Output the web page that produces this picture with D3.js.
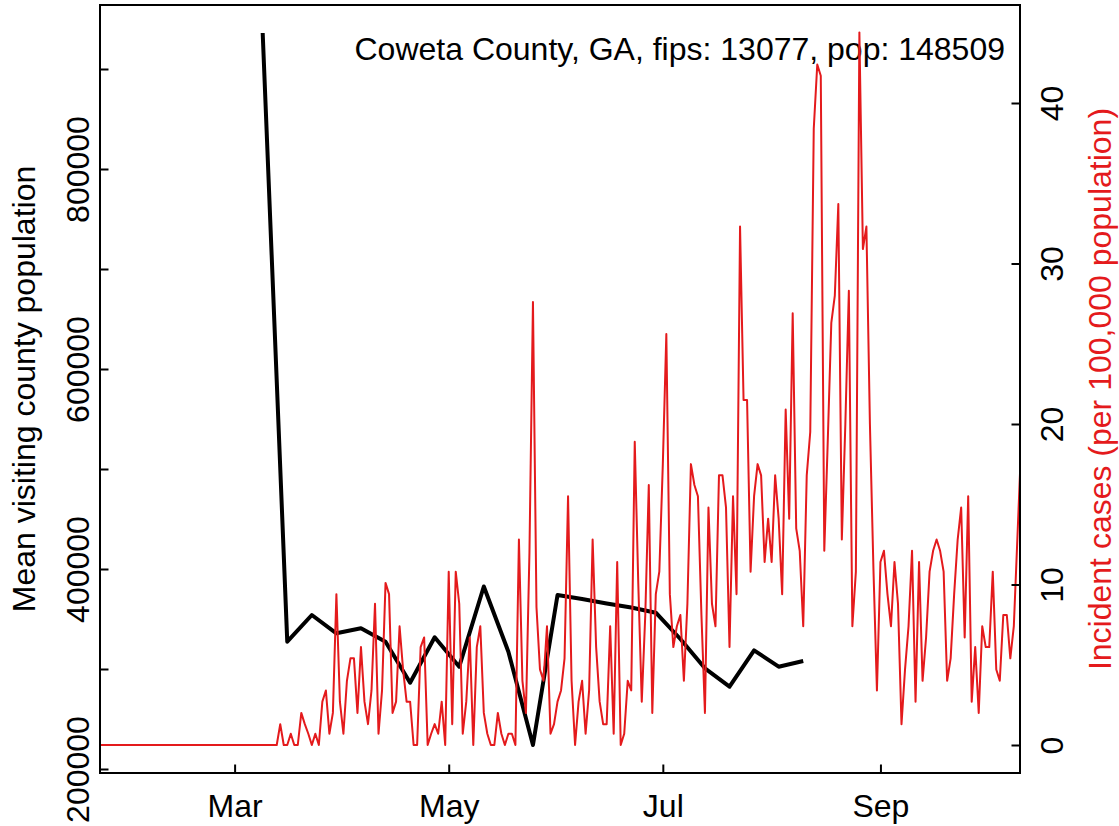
<!DOCTYPE html>
<html><head><meta charset="utf-8">
<script src="https://cdn.jsdelivr.net/npm/d3@7"></script>
<style>body{margin:0;background:#fff}svg{display:block}text{font-family:"Liberation Sans",Arial,sans-serif}</style>
</head><body><div id="chart"></div>
<script>
// ---- data ----
const titleText = "Coweta County, GA, fips: 13077, pop: 148509";
const leftAxisTitle = "Mean visiting county population";
const rightAxisTitle = "Incident cases (per 100,000 population)";
// weekly mean visiting population (starting 2020-03-09)
const visitStart = "2020-03-09";
const visitValues = [936000, 327300, 354000, 335700, 340700, 327300, 286300, 331700, 302300, 382500, 317300, 224000,
  374000, 370000, 365500, 361500, 356300, 330000, 300700, 282300, 318700, 302300, 308000];
// daily incident cases per 100,000 (starting 2020-01-22)
const caseStart = "2020-01-22";
const caseValues = [
  0,0,0,0,0,0,0,0,0,0, 0,0,0,0,0,0,0,0,0,0, 0,0,0,0,0,0,0,0,0,0, 0,0,0,0,0,0,0,0,0,0, 0,0,0,0,0,0,0,0,0,0, 0,0,
  1.3,0,0,0.7,0,0,2.0,1.3,0.7,0, 0.7,0,2.7,3.4,0.7,2.0,9.4,2.7,0.7,4.0,
  5.4,5.4,2.0,6.1,2.7,1.3,3.4,8.8,0.7,3.4, 10.1,9.4,2.0,2.7,7.4,4.7,2.7,2.7,0,0,
  6.1,6.7,0,0.7,1.3,0.7,2.7,0,10.8,1.3, 10.8,8.8,0.7,2.7,6.7,0,6.1,7.4,2.0,0.7,
  0,0,2.0,0.7,0,0.7,0.7,0,12.8,4.0, 2.0,12.0,27.6,8.6,4.7,4.0,7.4,0.7,1.3,2.7,
  3.4,5.4,15.5,4.0,0,2.7,4.0,0.7,3.4,12.8, 6.1,2.7,1.3,1.3,7.4,0.7,11.4,0,0.7,4.0,
  3.4,18.9,10.1,2.7,8.1,16.2,2.0,9.4,10.8,17.5, 25.6,9.4,6.1,7.4,8.1,4.0,8.8,17.5,16.2,15.5,
  8.1,2.0,14.8,8.8,7.4,16.8,16.8,14.8,6.1,15.5, 9.4,32.3,21.5,21.5,10.8,15.5,17.5,16.8,11.4,14.1,
  11.4,16.8,14.1,9.4,20.9,14.1,26.9,13.5,12.1,7.4, 16.8,19.5,38.4,42.4,41.7,12.1,19.0,26.3,28.0,33.7,
  12.8,20.0,28.3,7.4,10.8,44.4,30.9,32.3,20.0,11.0, 3.4,11.4,12.1,9.4,7.4,11.4,8.8,1.3,4.7,7.4,
  12.1,2.7,11.4,4.0,6.7,10.8,12.1,12.8,12.1,10.8, 4.0,5.4,9.4,12.8,14.8,6.7,15.5,2.7,6.1,2.0,
  7.4,6.1,6.1,10.8,4.7,4.0,8.1,8.1,5.4,7.4, 12.8,18.2
];
const xTickDates = ["2020-03-01", "2020-05-01", "2020-07-01", "2020-09-01"];
const xTickLabels = ["Mar", "May", "Jul", "Sep"];
const leftTicks = [200000, 300000, 400000, 500000, 600000, 700000, 800000, 900000];
const leftTickLabels = ["200000", "", "400000", "", "600000", "", "800000", ""];
const rightTicks = [0, 10, 20, 30, 40];
const rightTickLabels = ["0", "10", "20", "30", "40"];

// ---- layout ----
const W = 1119, H = 826;
const L = 100, R = 1020, T = 5, B = 773;
const FS = 32, TICK = 8.5;
const RED = "#E41A1C";

const day = 86400000;
const parse = s => new Date(s + "T00:00:00Z");
const visits = visitValues.map((v, i) => ({date: new Date(parse(visitStart).getTime() + i * 7 * day), v}));
const cases = caseValues.map((v, i) => ({date: new Date(parse(caseStart).getTime() + i * day), v}));

const x = d3.scaleUtc().domain([new Date("2020-01-22T15:36:00Z"), new Date("2020-10-10T18:14:00Z")]).range([L, R]);
const yL = d3.scaleLinear().domain([200000, 900000]).range([769, 69]);
const yR = d3.scaleLinear().domain([0, 40]).range([745, 103]);

const svg = d3.select("#chart").append("svg").attr("width", W).attr("height", H);
svg.append("defs").append("clipPath").attr("id", "clip")
  .append("rect").attr("x", L).attr("y", T).attr("width", R - L).attr("height", B - T);

// black line
svg.append("path").datum(visits)
  .attr("clip-path", "url(#clip)")
  .attr("fill", "none").attr("stroke", "#000").attr("stroke-width", 4).attr("stroke-linejoin", "round")
  .attr("d", d3.line().x(d => x(d.date)).y(d => yL(d.v)));

// title text
svg.append("text").attr("x", 1005).attr("y", 60).attr("text-anchor", "end")
  .attr("font-size", FS).attr("fill", "#000").text(titleText);

// red line
svg.append("path").datum(cases)
  .attr("clip-path", "url(#clip)")
  .attr("fill", "none").attr("stroke", RED).attr("stroke-width", 2).attr("stroke-linejoin", "round")
  .attr("d", d3.line().x(d => x(d.date)).y(d => yR(d.v)));

// frame
svg.append("rect").attr("x", L).attr("y", T).attr("width", R - L).attr("height", B - T)
  .attr("fill", "none").attr("stroke", "#000").attr("stroke-width", 2);

// bottom axis (ticks inward)
const gx = svg.append("g").attr("transform", `translate(0,${B})`)
  .call(d3.axisBottom(x).tickValues(xTickDates.map(parse)).tickSize(-TICK).tickFormat((d, i) => xTickLabels[i]));
gx.select(".domain").remove();
gx.selectAll(".tick line").attr("stroke", "#000").attr("stroke-width", 2);
gx.selectAll(".tick text").attr("font-size", FS).attr("fill", "#000").attr("y", 44).attr("dy", 0)
  .attr("font-family", "Liberation Sans, Arial, sans-serif");

// left axis
const gl = svg.append("g").attr("transform", `translate(${L},0)`)
  .call(d3.axisLeft(yL).tickValues(leftTicks).tickSize(-TICK).tickFormat((d, i) => leftTickLabels[i]));
gl.select(".domain").remove();
gl.selectAll(".tick line").attr("stroke", "#000").attr("stroke-width", 2);
gl.selectAll(".tick text").attr("font-size", FS).attr("fill", "#000")
  .attr("font-family", "Liberation Sans, Arial, sans-serif")
  .attr("x", null).attr("dy", null).attr("text-anchor", "middle")
  .attr("transform", "translate(-11,0) rotate(-90)");

// right axis
const gr = svg.append("g").attr("transform", `translate(${R},0)`)
  .call(d3.axisRight(yR).tickValues(rightTicks).tickSize(-TICK).tickFormat((d, i) => rightTickLabels[i]));
gr.select(".domain").remove();
gr.selectAll(".tick line").attr("stroke", "#000").attr("stroke-width", 2);
gr.selectAll(".tick text").attr("font-size", FS).attr("fill", "#000")
  .attr("font-family", "Liberation Sans, Arial, sans-serif")
  .attr("x", null).attr("dy", null).attr("text-anchor", "middle")
  .attr("transform", "translate(43,0) rotate(-90)");

// axis titles
svg.append("text").attr("transform", `translate(35,${(T + B) / 2}) rotate(-90)`)
  .attr("text-anchor", "middle").attr("font-size", FS).attr("fill", "#000").text(leftAxisTitle);
svg.append("text").attr("transform", `translate(1111,${(T + B) / 2}) rotate(-90)`)
  .attr("text-anchor", "middle").attr("font-size", FS).attr("fill", RED).text(rightAxisTitle);
</script></body></html>
